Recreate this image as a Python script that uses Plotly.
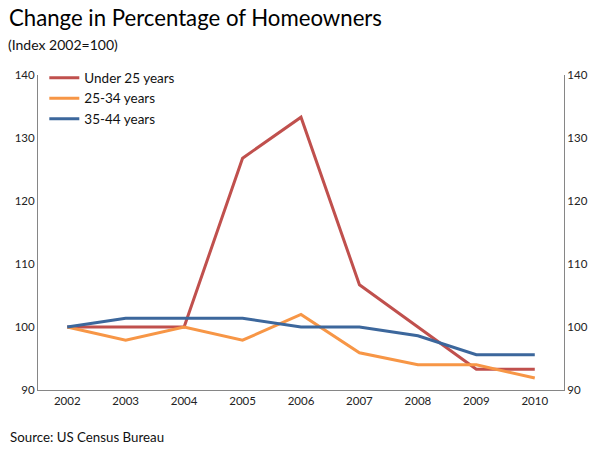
import plotly.graph_objects as go

years = ["2002", "2003", "2004", "2005", "2006", "2007", "2008", "2009", "2010"]
under25 = [100, 100, 100, 126.8, 133.3, 106.7, 100.0, 93.3, 93.3]
age25_34 = [100, 97.9, 100, 97.9, 102.0, 95.9, 94.0, 94.0, 91.9]
age35_44 = [100, 101.4, 101.4, 101.4, 100.0, 100.0, 98.6, 95.6, 95.6]
y_ticks = [90, 100, 110, 120, 130, 140]

series = [("Under 25 years", under25, "#C0504D"),
          ("25-34 years", age25_34, "#F79646"),
          ("35-44 years", age35_44, "#3C679C")]

fig = go.Figure()
for name, vals, col in series:
    fig.add_trace(go.Scatter(x=years, y=vals, name=name, mode="lines",
                             line=dict(color=col, width=3)))
fig.add_trace(go.Scatter(x=years, y=under25, yaxis="y2", mode="lines",
                         line=dict(width=0), opacity=0, showlegend=False,
                         hoverinfo="skip"))

font = "Lato, 'Open Sans', sans-serif"
axis_common = dict(range=[90, 140], tickvals=y_ticks, showgrid=False,
                   zeroline=False, showline=True, linecolor="#868686",
                   linewidth=1, ticks="", tickfont=dict(size=11.5, color="#222"))
fig.update_layout(
    width=600, height=450,
    margin=dict(l=38, r=32, t=75, b=60),
    paper_bgcolor="white", plot_bgcolor="white",
    font=dict(family=font, color="#000"),
    xaxis=dict(type="category", range=[-0.5, 8.5], showgrid=False,
               showline=True, linecolor="#868686", linewidth=1, ticks="",
               tickfont=dict(size=11.5, color="#222")),
    yaxis=dict(**axis_common, side="left"),
    yaxis2=dict(**axis_common, side="right", overlaying="y"),
    legend=dict(x=0.012, y=1.04, xanchor="left", yanchor="top",
                bgcolor="rgba(0,0,0,0)", font=dict(size=13.5, color="#111")),
    showlegend=True,
    annotations=[
        dict(text="Change in Percentage of Homeowners", xref="paper", yref="paper",
             x=-31/530, y=1 + (75 - 18) / 315, xanchor="left", yanchor="middle",
             showarrow=False, font=dict(size=22.2, color="#000")),
        dict(text="(Index 2002=100)", xref="paper", yref="paper",
             x=-32/530, y=1 + (75 - 45) / 315, xanchor="left", yanchor="middle",
             showarrow=False, font=dict(size=14, color="#111")),
        dict(text="Source: US Census Bureau", xref="paper", yref="paper",
             x=-30/530, y=-(437 - 390) / 315, xanchor="left", yanchor="middle",
             showarrow=False, font=dict(size=13.3, color="#111")),
    ],
)
fig.write_html("out.html")
